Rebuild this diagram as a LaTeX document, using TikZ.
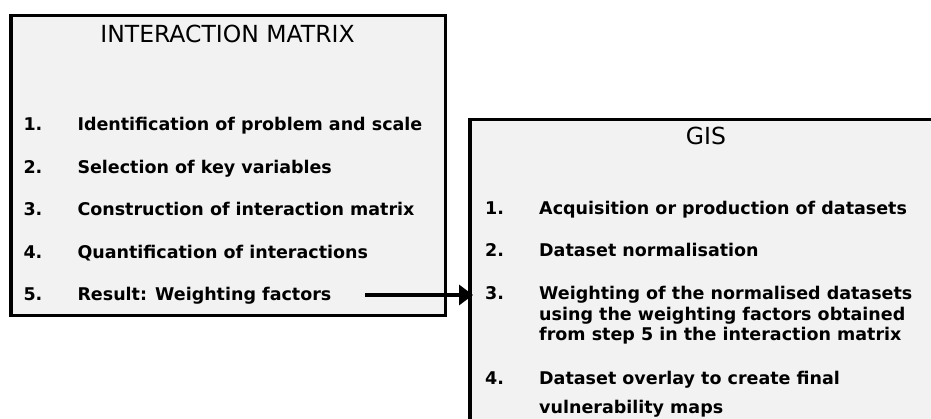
\documentclass[tikz,border=0pt]{standalone}
\usepackage{fontspec}
\setmainfont{DejaVu Sans}
\usetikzlibrary{arrows.meta}
\definecolor{boxfill}{HTML}{F2F2F2}
\tikzset{
  panel/.style={draw=black, line width=3.5pt, fill=boxfill},
  ptitle/.style={anchor=base, inner sep=0pt, font=\fontsize{23.5}{28}\selectfont},
  pnum/.style={anchor=base west, inner sep=0pt, font=\bfseries\fontsize{17.5}{21}\selectfont},
  ptext/.style={anchor=base west, inner sep=0pt, font=\bfseries\fontsize{17.5}{21}\selectfont},
  link/.style={line width=3.2pt, -{Triangle[length=14pt,width=20pt]}}
}
\begin{document}
\begin{tikzpicture}[x=1pt,y=-1pt]
\useasboundingbox (0,0) rectangle (931,419);
\clip (0,0) rectangle (931,419);
% left box
\draw[panel] (10.75,15.75) rectangle (445.3,315.3);
\node[ptitle] (imt) at (227.5,42.7) {INTERACTION MATRIX};
\node[pnum] (in1) at (23.3,130.7) {1.};
\node[ptext] (i1) at (77.3,130.7) {Identification of problem and scale};
\node[pnum] (in2) at (23.3,173.2) {2.};
\node[ptext] (i2) at (77.3,173.2) {Selection of key variables};
\node[pnum] (in3) at (23.3,215.7) {3.};
\node[ptext] (i3) at (77.3,215.7) {Construction of interaction matrix};
\node[pnum] (in4) at (23.3,258.2) {4.};
\node[ptext] (i4) at (77.3,258.2) {Quantification of interactions};
\node[pnum] (in5) at (23.3,300.7) {5.};
\node[ptext] (i5) at (77.3,300.7) {Result: Weighting factors};
% right box
\draw[panel] (470,119.3) rectangle (945,440);
\node[ptitle] (gt) at (706,145) {GIS};
\node[pnum] (gn1) at (485,215) {1.};
\node[ptext] (g1) at (539,215) {Acquisition or production of datasets};
\node[pnum] (gn2) at (485,256.7) {2.};
\node[ptext] (g2) at (539,256.7) {Dataset normalisation};
\node[pnum] (gn3) at (485,299.3) {3.};
\node[ptext] (g3a) at (539,299.3) {Weighting of the normalised datasets};
\node[ptext] (g3b) at (539,320.7) {using the weighting factors obtained};
\node[ptext] (g3c) at (539,341) {from step 5 in the interaction matrix};
\node[pnum] (gn4) at (485,384.3) {4.};
\node[ptext] (g4a) at (539,384.3) {Dataset overlay to create final};
\node[ptext] (g4b) at (539,413.3) {vulnerability maps};
% arrow
\coordinate (astart) at (365,295);
\coordinate (aend) at (473,295);
\draw[link] (astart) -- (aend);
\end{tikzpicture}
\end{document}
